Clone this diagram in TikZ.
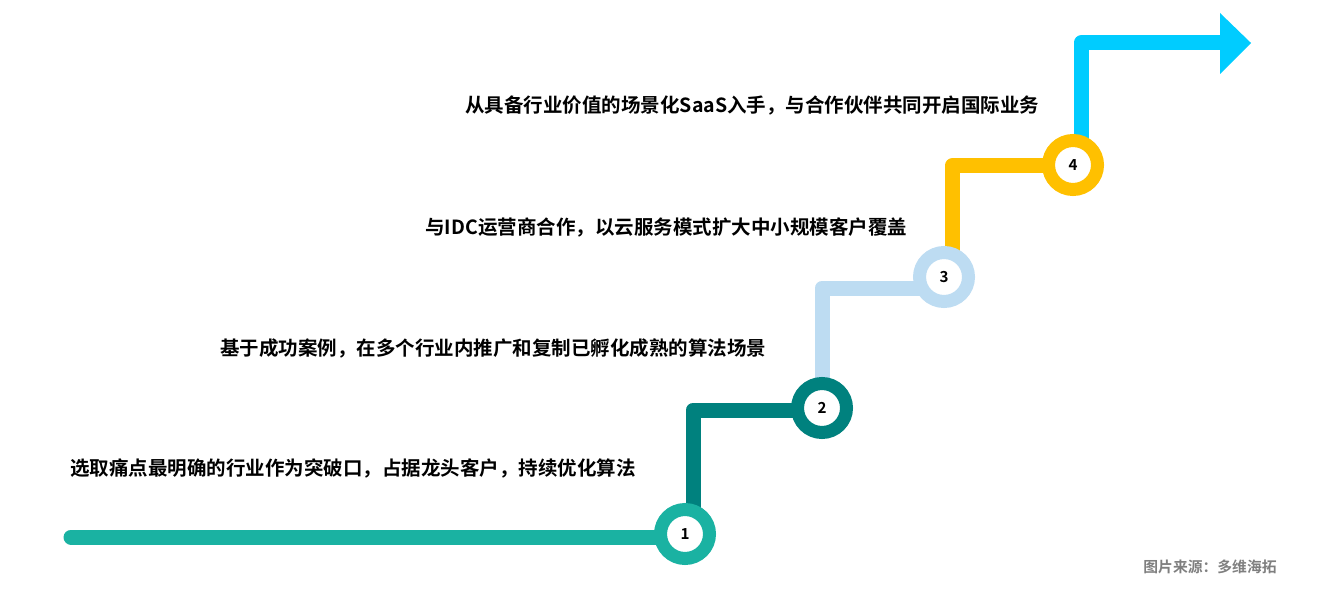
\documentclass[tikz,border=0pt]{standalone}
\usepackage{fontspec}
\newfontfamily\cjkb[BoldFont={Noto Sans CJK SC Bold}]{Noto Sans CJK SC Bold}
\newfontfamily\cjkr{Noto Sans CJK SC}
\usetikzlibrary{backgrounds}
\definecolor{cA}{HTML}{1AB2A2}
\definecolor{cB}{HTML}{00817E}
\definecolor{cC}{HTML}{BDDCF2}
\definecolor{cD}{HTML}{FFC000}
\definecolor{cE}{HTML}{00CCFF}
\definecolor{srcgray}{HTML}{7F7F7F}
\tikzset{
  ring/.style={circle, draw=#1, fill=white, line width=6.5pt, minimum size=24.5pt, inner sep=0pt,
    font=\cjkb\fontsize{7.6}{8}\selectfont},
  seg/.style={draw=#1, line width=7.5pt, line join=round},
  lab/.style={anchor=west, inner sep=0pt, font=\cjkb\fontsize{9.75}{12}\selectfont},
}
\begin{document}
\begin{tikzpicture}[x=0.5pt, y=-0.5pt]
\useasboundingbox (0,0) rectangle (1320,588);
\node[ring=cA] (c1) at (685,534) {1};
\node[ring=cB] (c2) at (822,408) {2};
\node[ring=cC] (c3) at (944,277) {3};
\node[ring=cD] (c4) at (1073,165) {4};
\coordinate (s0) at (71,537);
\coordinate (k1) at (693,410);
\coordinate (k2) at (822,288);
\coordinate (k3) at (952,166);
\coordinate (k4) at (1081,43);
\coordinate (e4) at (1222,43);
\coordinate (tip) at (1251,43);
\begin{pgfonlayer}{background}
\draw[seg=cA, line cap=round] (s0) -- (c1.center |- s0);
\draw[seg=cB] (c1.center -| k1) -- (k1) -- (k1 -| c2.center);
\draw[seg=cC] (c2.center) -- (k2) -- (k2 -| c3.center);
\draw[seg=cD] (c3.center -| k3) -- (k3) -- (k3 -| c4.center);
\draw[seg=cE] (c4.center -| k4) -- (k4) -- (e4);
\fill[cE] (1220,13) -- (tip) -- (1220,74) -- cycle;
\end{pgfonlayer}
\node[lab] (t1) at (70,468) {选取痛点最明确的行业作为突破口，占据龙头客户，持续优化算法};
\node[lab] (t2) at (220,348) {基于成功案例，在多个行业内推广和复制已孵化成熟的算法场景};
\node[lab] (t3) at (425,227) {与IDC运营商合作，以云服务模式扩大中小规模客户覆盖};
\node[lab] (t4) at (465,106) {从具备行业价值的场景化SaaS入手，与合作伙伴共同开启国际业务};
\node[anchor=west, inner sep=0pt, text=srcgray, font=\cjkb\fontsize{7.4}{9}\selectfont] (src) at (1143,567) {图片来源：多维海拓};
\end{tikzpicture}
\end{document}
